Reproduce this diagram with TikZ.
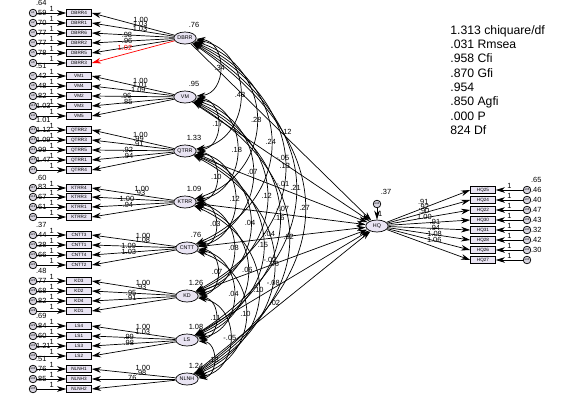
\documentclass[tikz,border=0pt]{standalone}
\usepackage{fontspec}
\setmainfont{Liberation Sans}
\usetikzlibrary{arrows.meta,shapes.geometric}
\definecolor{obsfill}{RGB}{233,228,243}
\definecolor{latfill}{RGB}{233,228,243}
\definecolor{errfill}{RGB}{214,211,222}
\tikzset{
  obs/.style={draw, line width=0.6pt, fill=obsfill, minimum width=0.62cm, minimum height=0.17cm, inner sep=0pt, font=\fontsize{3.3}{3.3}\selectfont},
  lat/.style={draw, ellipse, line width=0.5pt, fill=latfill, minimum width=0.56cm, minimum height=0.3cm, inner sep=0pt, font=\fontsize{3.8}{3.8}\selectfont},
  err/.style={draw, circle, line width=0.5pt, fill=errfill, minimum size=0.19cm, inner sep=0pt, font=\fontsize{2}{2}\selectfont},
  lbl/.style={inner sep=0.5pt, font=\fontsize{5.3}{5.3}\selectfont},
  gofbox/.style={inner sep=0pt, anchor=north west, align=left, font=\fontsize{8.7}{10.2}\selectfont},
}
\begin{document}
\begin{tikzpicture}[x=0.025cm, y=-0.025cm, >={Stealth[length=6.5pt,width=4pt]}, line width=0.5pt]
\useasboundingbox (0,0) rectangle (584,404);

% latent factors
\foreach \l/\x/\y/\v in {DBRR/185/38/.76, VM/185/97/.95, QTRR/185/151/1.33, KTRR/185/202/1.09,
    CNTT/187/248/.76, KD/187/296/1.26, LS/187/340/1.08, NLNH/187/379/1.24}{
  \node[lat] (\l) at (\x,\y) {\l};
  \node[lbl] (v\l) at ({\x+9},{\y-13}) {\v};
}
\node[lat] (HQ) at (377,226) {HQ};
\node[err] (e44) at (377,204) {e44};
\draw[->] (e44) -- (HQ) node[lbl, midway, right] (one44) {1};
\node[lbl] (v44) at (386,192) {.37};

% left indicators
\foreach \n/\y/\v/\l/\w/\p/\c [count=\i] in {
    DBRR4/13/.64/DBRR/1.00/.41/black, DBRR1/23/.59/DBRR/1.03/.41/black, DBRR6/33/.70/DBRR/1.03/.41/black,
    DBRR2/43/.77/DBRR/.98/.57/black, DBRR5/53/.77/DBRR/.96/.57/black, DBRR3/63/.78/DBRR/1.02/.6/red,
    VM1/76/.51/VM/1.00/.41/black, VM4/86/.42/VM/1.01/.41/black, VM2/96/.48/VM/1.09/.43/black,
    VM3/106/.82/VM/.96/.58/black, VM5/116/1.03/VM/.85/.57/black,
    QTRR2/130/1.01/QTRR/1.00/.41/black, QTRR3/140/1.12/QTRR/.99/.43/black, QTRR5/150/1.09/QTRR/.91/.43/black,
    QTRR1/160/.99/QTRR/.92/.56/black, QTRR4/170/1.47/QTRR/.94/.56/black,
    KTRR4/188/.60/KTRR/1.00/.39/black, KTRR3/197/.83/KTRR/.93/.41/black,
    KTRR1/207/.67/KTRR/1.00/.57/black, KTRR2/217/.61/KTRR/.94/.56/black,
    CNTT3/235/.37/CNTT/1.00/.39/black, CNTT1/245/.44/CNTT/1.08/.39/black,
    CNTT4/255/.38/CNTT/1.09/.56/black, CNTT2/265/.66/CNTT/1.03/.56/black,
    KD3/281/.48/KD/1.00/.39/black, KD2/291/.77/KD/.93/.41/black,
    KD4/301/.68/KD/.95/.53/black, KD1/311/.82/KD/.91/.53/black,
    LS4/326/.69/LS/1.00/.39/black, LS1/336/.84/LS/1.03/.39/black,
    LS3/346/.60/LS/.99/.56/black, LS2/356/1.21/LS/.98/.56/black,
    NLNH1/369/.51/NLNH/1.00/.39/black, NLNH3/379/.76/NLNH/.98/.41/black, NLNH2/389/.85/NLNH/.76/.53/black}{
  \node[obs] (\n) at (79,\y) {\n};
  \node[err] (e\i) at (33,\y) {e\i};
  \draw[->] (e\i) -- (\n) node[lbl, midway, above] {1};
  \node[lbl, anchor=west] (ve\i) at (35,{\y-10}) {\v};
  \draw[->, draw=\c] (\l) -- (\n.east) node[lbl, pos=\p, above=2pt, text=\c] {\w};
}

% right indicators
\foreach \n/\y/\w/\p/\v [count=\i from 36] in {HQ25/190/.91/.44/.65, HQ24/200/.92/.44/.46,
    HQ22/210/.90/.44/.40, HQ30/220/1.00/.44/.47, HQ31/230/.91/.57/.43, HQ28/240/.94/.57/.32,
    HQ26/250/1.08/.57/.42, HQ27/260/1.06/.57/.30}{
  \node[obs] (\n) at (483,\y) {\n};
  \node[err] (e\i) at (527,\y) {e\i};
  \draw[->] (e\i) -- (\n) node[lbl, midway, above] {1};
  \node[lbl, anchor=west] (ve\i) at (530,{\y-10}) {\v};
  \draw[->] (HQ) -- (\n.west) node[lbl, pos=\p, above=2pt] {\w};
}

% paths to HQ
\foreach \l/\w/\p in {DBRR/.12/.53, VM/-.05/.51, QTRR/-.01/.51, KTRR/-.07/.51,
    CNTT/-.04/.42, KD/-.02/.43, LS/-.08/.45, NLNH/.02/.46}{
  \draw[->] (\l) -- (HQ) node[lbl, pos=\p, above=1pt] {\w};
}

% covariances
\foreach \a/\b/\v/\t in {DBRR/VM/.34/85, DBRR/QTRR/.43/80, DBRR/KTRR/.28/72, DBRR/CNTT/.24/66,
    DBRR/KD/.13/62, DBRR/LS/.21/58, DBRR/NLNH/.27/55,
    VM/QTRR/.17/85, VM/KTRR/.18/80, VM/CNTT/.07/72, VM/KD/.12/66, VM/LS/.16/62, VM/NLNH/.02/58,
    QTRR/KTRR/.10/85, QTRR/CNTT/.12/80, QTRR/KD/.04/72, QTRR/LS/.15/66, QTRR/NLNH/.06/62,
    KTRR/CNTT/.03/85, KTRR/KD/.08/80, KTRR/LS/.06/72, KTRR/NLNH/.10/66,
    CNTT/KD/.07/85, CNTT/LS/.04/80, CNTT/NLNH/.10/72,
    KD/LS/.11/85, KD/NLNH/-.05/80,
    LS/NLNH/.13/85}{
  \draw[<->] (\a) to[bend left=\t, looseness=1.4] node[lbl, midway] {\v} (\b);
}

\node[gofbox] (gof) at (450,25) {1.313 chiquare/df\\.031 Rmsea\\.958 Cfi\\.870 Gfi\\.954\\.850 Agfi\\.000 P\\824 Df};
\end{tikzpicture}
\end{document}
